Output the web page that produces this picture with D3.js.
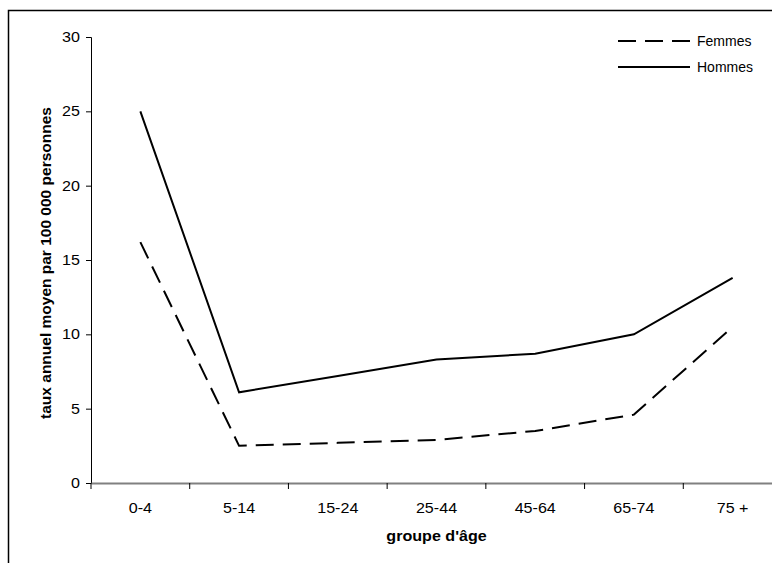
<!DOCTYPE html>
<html><head><meta charset="utf-8">
<script src="https://cdn.jsdelivr.net/npm/d3@7"></script>
<style>body{margin:0;background:#fff}svg{display:block}</style>
</head><body>
<script>
const categories = ["0-4","5-14","15-24","25-44","45-64","65-74","75 +"];
const femmes = [16.2, 2.5, 2.7, 2.9, 3.5, 4.6, 10.5];
const hommes = [25.0, 6.1, 7.2, 8.3, 8.7, 10.0, 13.8];
const yTicks = [0,5,10,15,20,25,30];
const seriesNames = ["Femmes","Hommes"];

(function () {
const W = 772, H = 563;
const svg = d3.select("body").append("svg").attr("width", W).attr("height", H);
const font = "'Liberation Sans', Arial, sans-serif";
const stretch = "scale(1.15,1)";

// outer frame (extends past the window)
svg.append("rect").attr("x", 8.5).attr("y", 10.5).attr("width", 900).attr("height", 700)
  .attr("fill", "none").attr("stroke", "#000").attr("stroke-width", 1.5);

const pLeft = 91, pRight = 782, pTop = 37, pBottom = 483;
const x = d3.scalePoint().domain(categories).range([pLeft, pRight]).padding(0.5);
const xb = d3.scaleBand().domain(categories).range([pLeft, pRight]);
const y = d3.scaleLinear().domain([0, 30]).range([pBottom, pTop]);

// y axis
const ya = svg.append("g").attr("transform", `translate(${pLeft},0)`)
  .call(d3.axisLeft(y).tickValues(yTicks).tickSize(5).tickPadding(4.6));
ya.select(".domain").attr("stroke", "#000").attr("stroke-width", 1);
ya.selectAll(".tick line").attr("stroke", "#000");
ya.selectAll("text").attr("font-family", font).attr("font-size", 14).attr("fill", "#000")
  .attr("transform", stretch);

// x axis
const xa = svg.append("g").attr("transform", `translate(0,${pBottom})`)
  .call(d3.axisBottom(xb).tickSize(0).tickPadding(20));
xa.select(".domain").attr("stroke", "#808080").attr("stroke-width", 2);
xa.selectAll("text").attr("font-family", font).attr("font-size", 14).attr("fill", "#000")
  .attr("transform", stretch);
// boundary ticks
const bounds = categories.map(c => xb(c)).concat([pRight]);
svg.append("g").selectAll("line").data(bounds).join("line")
  .attr("x1", d => d).attr("x2", d => d).attr("y1", pBottom).attr("y2", pBottom + 6)
  .attr("stroke", "#000").attr("stroke-width", 1);

// lines
const line = d3.line().x((d, i) => x(categories[i])).y(d => y(d));
svg.append("path").datum(femmes).attr("d", line).attr("fill", "none")
  .attr("stroke", "#000").attr("stroke-width", 2).attr("stroke-dasharray", "18,9");
svg.append("path").datum(hommes).attr("d", line).attr("fill", "none")
  .attr("stroke", "#000").attr("stroke-width", 2);

// axis titles
svg.append("text").attr("transform", `translate(51,${(pTop + pBottom) / 2 + 3}) rotate(-90)`)
  .attr("text-anchor", "middle").attr("font-family", font).attr("font-weight", "bold")
  .attr("font-size", 15.5).text("taux annuel moyen par 100 000 personnes");
svg.append("text").attr("transform", `translate(${x("25-44")},541) ${stretch}`)
  .attr("text-anchor", "middle").attr("font-family", font).attr("font-weight", "bold")
  .attr("font-size", 14).text("groupe d'âge");

// legend
const leg = svg.append("g");
const legY = [41, 67];
seriesNames.forEach((n, i) => {
  leg.append("line").attr("x1", 618).attr("x2", 690).attr("y1", legY[i]).attr("y2", legY[i])
    .attr("stroke", "#000").attr("stroke-width", 2)
    .attr("stroke-dasharray", i === 0 ? "18,9" : null);
  leg.append("text").attr("x", 697).attr("y", legY[i] + 5).attr("font-family", font)
    .attr("font-size", 14).text(n);
});
})();
</script>
</body></html>
